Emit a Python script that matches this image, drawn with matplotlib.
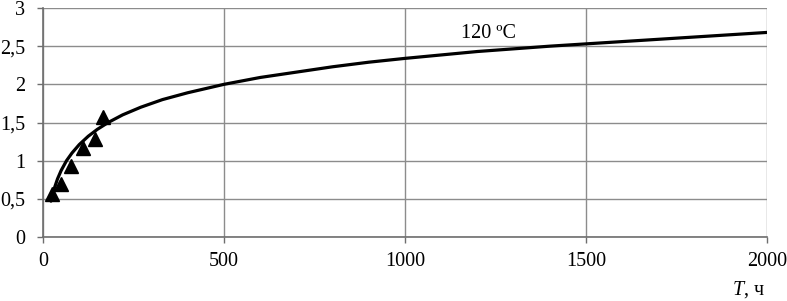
import matplotlib
matplotlib.use("Agg")
import matplotlib.pyplot as plt
from matplotlib.ticker import FuncFormatter

# curve
curve_x = [22, 30, 40, 50, 65, 80, 100, 125, 150, 180, 220, 270, 330, 400, 500,
           600, 700, 800, 900, 1000, 1200, 1400, 1600, 1800, 2000]
curve_y = [0.47, 0.62, 0.76, 0.87, 1.00, 1.10, 1.21, 1.32, 1.41, 1.50, 1.60, 1.70,
           1.80, 1.89, 2.00, 2.09, 2.16, 2.23, 2.29, 2.34, 2.43, 2.50, 2.56, 2.62, 2.68]

# experimental points (triangles)
pts_x = [24, 50, 76, 111, 144, 167]
pts_y = [0.56, 0.69, 0.93, 1.16, 1.29, 1.57]

x_ticks = [0, 500, 1000, 1500, 2000]
y_ticks = [0, 0.5, 1, 1.5, 2, 2.5, 3]
curve_label = "120 ºC"
x_label = "$\\it{T}$, ч"

plt.rcParams['font.family'] = ['Liberation Serif', 'DejaVu Serif']
plt.rcParams['mathtext.fontset'] = 'custom'
plt.rcParams['mathtext.it'] = 'Liberation Serif:italic'
plt.rcParams['mathtext.rm'] = 'Liberation Serif'

fig = plt.figure(figsize=(7.87, 3.01), dpi=100)
ax = fig.add_axes([43/787, 1-237/301, (767-43)/787, (237-8)/301])

ax.plot(curve_x, curve_y, color='black', lw=2.3, solid_capstyle='round', zorder=3)
ax.plot(pts_x, pts_y, linestyle='none', marker='^', color='black', ms=10, zorder=4)

ax.set_xlim(0, 2000)
ax.set_ylim(0, 3)
ax.set_xticks(x_ticks)
ax.set_yticks(y_ticks)
ax.yaxis.set_major_formatter(FuncFormatter(lambda v, p: ('%g' % v).replace('.', ',')))
ax.grid(True, color='#8c8c8c', lw=1.0)
ax.set_axisbelow(True)
for s in ['top', 'right']:
    ax.spines[s].set_visible(False)
for s in ['left', 'bottom']:
    ax.spines[s].set_color('#6e6e6e')
    ax.spines[s].set_linewidth(1.2)
ax.tick_params(direction='out', length=4.3, width=1.0, color='#6e6e6e',
               labelsize=14.5)
ax.tick_params(axis='x', pad=6.5)
ax.tick_params(axis='y', pad=8.5)

ax.text(1232, 2.67, curve_label, fontsize=14.5, ha='center', va='center')
fig.text(748/787, 1-290/301, x_label, fontsize=14.5, ha='center', va='center')

fig.savefig('out.png', dpi=100)
